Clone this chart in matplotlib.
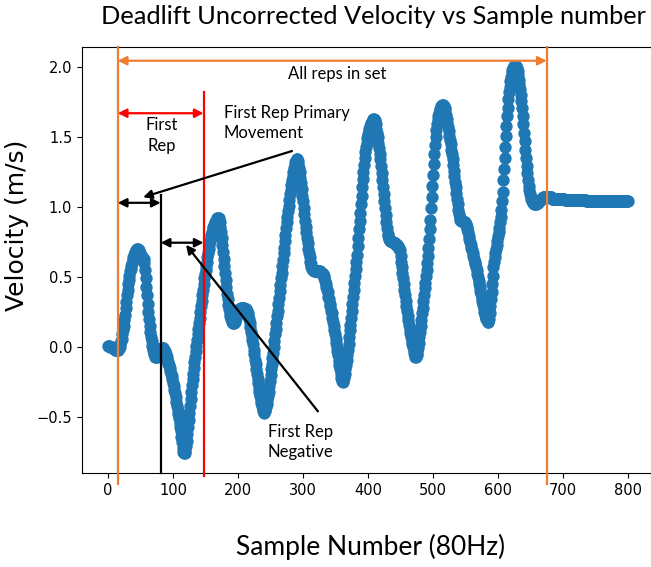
import numpy as np
import matplotlib
matplotlib.use("Agg")
import matplotlib.pyplot as plt

# velocity, one value per sample (80 Hz), samples 0..800
velocity = [
    0.01, 0.01, 0.01, 0.00, 0.00, 0.00, 0.00, -0.01, -0.01, -0.01,      # 0
    -0.01, -0.02, -0.02, -0.02, -0.02, -0.02, -0.02, -0.01, 0.00, 0.02,  # 10
    0.04, 0.06, 0.09, 0.12, 0.15, 0.19, 0.23, 0.28, 0.32, 0.37,          # 20
    0.41, 0.45, 0.48, 0.51, 0.54, 0.56, 0.58, 0.60, 0.62, 0.64,          # 30
    0.66, 0.67, 0.68, 0.69, 0.70, 0.70, 0.70, 0.69, 0.68, 0.67,          # 40
    0.66, 0.65, 0.64, 0.64, 0.63, 0.63, 0.60, 0.55, 0.49, 0.43,          # 50
    0.37, 0.31, 0.25, 0.20, 0.15, 0.11, 0.07, 0.04, 0.01, -0.02,         # 60
    -0.04, -0.05, -0.06, -0.07, -0.07, -0.07, -0.06, -0.05, -0.04, -0.03,  # 70
    -0.02, -0.02, -0.01, -0.01, -0.01, -0.01, -0.02, -0.03, -0.04, -0.05,  # 80
    -0.07, -0.09, -0.11, -0.12, -0.13, -0.15, -0.17, -0.19, -0.21, -0.23,  # 90
    -0.26, -0.28, -0.31, -0.33, -0.36, -0.39, -0.42, -0.45, -0.48, -0.51,  # 100
    -0.54, -0.57, -0.60, -0.64, -0.68, -0.72, -0.75, -0.76, -0.76, -0.74,  # 110
    -0.71, -0.67, -0.62, -0.57, -0.52, -0.47, -0.42, -0.37, -0.32, -0.27,  # 120
    -0.23, -0.19, -0.15, -0.11, -0.07, -0.03, 0.01, 0.05, 0.09, 0.13,    # 130
    0.17, 0.21, 0.25, 0.29, 0.33, 0.37, 0.41, 0.45, 0.49, 0.52,          # 140
    0.55, 0.58, 0.61, 0.64, 0.67, 0.70, 0.73, 0.76, 0.78, 0.80,          # 150
    0.82, 0.84, 0.86, 0.87, 0.88, 0.89, 0.90, 0.91, 0.92, 0.92,          # 160
    0.92, 0.91, 0.89, 0.86, 0.82, 0.78, 0.73, 0.68, 0.63, 0.58,          # 170
    0.53, 0.48, 0.43, 0.38, 0.34, 0.30, 0.27, 0.24, 0.22, 0.20,          # 180
    0.19, 0.18, 0.17, 0.17, 0.17, 0.18, 0.19, 0.21, 0.23, 0.24,          # 190
    0.25, 0.26, 0.27, 0.27, 0.28, 0.28, 0.28, 0.28, 0.28, 0.28,          # 200
    0.27, 0.27, 0.27, 0.27, 0.26, 0.24, 0.22, 0.20, 0.17, 0.14,          # 210
    0.11, 0.08, 0.05, 0.02, -0.02, -0.05, -0.09, -0.12, -0.16, -0.19,    # 220
    -0.23, -0.26, -0.29, -0.32, -0.35, -0.38, -0.40, -0.42, -0.44, -0.46,  # 230
    -0.47, -0.46, -0.45, -0.43, -0.41, -0.38, -0.35, -0.32, -0.28, -0.24,  # 240
    -0.20, -0.16, -0.12, -0.08, -0.04, 0.00, 0.04, 0.09, 0.13, 0.17,     # 250
    0.22, 0.26, 0.31, 0.35, 0.40, 0.44, 0.49, 0.53, 0.58, 0.62,          # 260
    0.67, 0.71, 0.76, 0.80, 0.85, 0.89, 0.93, 0.97, 1.01, 1.05,          # 270
    1.09, 1.12, 1.16, 1.19, 1.22, 1.25, 1.28, 1.30, 1.32, 1.33,          # 280
    1.34, 1.34, 1.33, 1.31, 1.28, 1.25, 1.21, 1.17, 1.13, 1.08,          # 290
    1.04, 0.99, 0.95, 0.90, 0.86, 0.82, 0.78, 0.74, 0.70, 0.67,          # 300
    0.64, 0.61, 0.59, 0.57, 0.56, 0.55, 0.55, 0.54, 0.54, 0.54,          # 310
    0.54, 0.54, 0.54, 0.54, 0.54, 0.54, 0.54, 0.53, 0.53, 0.53,          # 320
    0.52, 0.52, 0.51, 0.49, 0.47, 0.45, 0.43, 0.41, 0.39, 0.36,          # 330
    0.34, 0.31, 0.29, 0.26, 0.24, 0.21, 0.18, 0.15, 0.12, 0.09,          # 340
    0.06, 0.03, 0.00, -0.03, -0.06, -0.10, -0.13, -0.16, -0.19, -0.22,   # 350
    -0.24, -0.25, -0.24, -0.22, -0.19, -0.16, -0.13, -0.09, -0.06, -0.02,  # 360
    0.02, 0.07, 0.12, 0.16, 0.21, 0.26, 0.31, 0.36, 0.41, 0.46,          # 370
    0.51, 0.56, 0.61, 0.66, 0.72, 0.78, 0.84, 0.90, 0.96, 1.02,          # 380
    1.08, 1.14, 1.20, 1.25, 1.30, 1.35, 1.39, 1.43, 1.46, 1.49,          # 390
    1.52, 1.54, 1.56, 1.58, 1.59, 1.60, 1.61, 1.62, 1.63, 1.63,          # 400
    1.62, 1.61, 1.59, 1.56, 1.53, 1.50, 1.46, 1.42, 1.38, 1.34,          # 410
    1.29, 1.24, 1.19, 1.14, 1.09, 1.04, 0.99, 0.94, 0.89, 0.85,          # 420
    0.81, 0.79, 0.77, 0.77, 0.76, 0.76, 0.76, 0.75, 0.75, 0.75,          # 430
    0.74, 0.74, 0.74, 0.73, 0.73, 0.73, 0.72, 0.71, 0.70, 0.69,          # 440
    0.65, 0.61, 0.57, 0.53, 0.49, 0.45, 0.41, 0.37, 0.33, 0.29,          # 450
    0.26, 0.22, 0.19, 0.16, 0.13, 0.10, 0.07, 0.04, 0.02, 0.00,          # 460
    -0.02, -0.04, -0.06, -0.07, -0.07, -0.06, -0.04, -0.01, 0.03, 0.07,  # 470
    0.11, 0.15, 0.19, 0.24, 0.28, 0.33, 0.37, 0.42, 0.46, 0.51,          # 480
    0.55, 0.60, 0.65, 0.71, 0.77, 0.84, 0.91, 0.99, 1.07, 1.15,          # 490
    1.23, 1.31, 1.38, 1.44, 1.50, 1.55, 1.59, 1.62, 1.65, 1.67,          # 500
    1.69, 1.70, 1.71, 1.72, 1.73, 1.73, 1.73, 1.72, 1.71, 1.69,          # 510
    1.66, 1.63, 1.60, 1.57, 1.54, 1.51, 1.48, 1.45, 1.41, 1.38,          # 520
    1.34, 1.30, 1.26, 1.22, 1.18, 1.14, 1.10, 1.06, 1.02, 0.98,          # 530
    0.95, 0.92, 0.91, 0.90, 0.90, 0.90, 0.90, 0.89, 0.89, 0.89,          # 540
    0.88, 0.87, 0.86, 0.84, 0.82, 0.79, 0.77, 0.75, 0.73, 0.71,          # 550
    0.69, 0.67, 0.65, 0.63, 0.61, 0.59, 0.57, 0.55, 0.52, 0.50,          # 560
    0.47, 0.45, 0.43, 0.40, 0.38, 0.35, 0.33, 0.30, 0.28, 0.25,          # 570
    0.23, 0.21, 0.20, 0.19, 0.18, 0.18, 0.20, 0.24, 0.29, 0.34,          # 580
    0.39, 0.45, 0.51, 0.57, 0.61, 0.64, 0.67, 0.70, 0.73, 0.76,          # 590
    0.79, 0.82, 0.85, 0.89, 0.93, 0.98, 1.04, 1.11, 1.19, 1.27,          # 600
    1.35, 1.43, 1.51, 1.58, 1.65, 1.71, 1.77, 1.82, 1.86, 1.90,          # 610
    1.93, 1.96, 1.98, 1.99, 2.00, 2.01, 2.01, 2.01, 2.00, 1.99,          # 620
    1.97, 1.94, 1.91, 1.88, 1.84, 1.80, 1.76, 1.71, 1.65, 1.59,          # 630
    1.53, 1.47, 1.41, 1.35, 1.29, 1.24, 1.19, 1.15, 1.12, 1.09,          # 640
    1.07, 1.06, 1.05, 1.04, 1.03, 1.03, 1.02, 1.02, 1.02, 1.02,          # 650
    1.03, 1.03, 1.04, 1.04, 1.05, 1.05, 1.06, 1.06, 1.06, 1.07,          # 660
    1.07, 1.07, 1.07, 1.07, 1.07, 1.07, 1.07, 1.07, 1.07, 1.07,          # 670
    1.07, 1.07, 1.07, 1.06, 1.06, 1.06, 1.06, 1.06, 1.06, 1.06,          # 680
    1.06, 1.06, 1.06, 1.06, 1.06, 1.06, 1.06, 1.06, 1.06, 1.06,          # 690
    1.06, 1.06, 1.06, 1.05, 1.05, 1.05, 1.05, 1.05, 1.05, 1.05,          # 700
    1.05, 1.05, 1.05, 1.05, 1.05, 1.05, 1.05, 1.05, 1.05, 1.05,          # 710
    1.05, 1.05, 1.05, 1.05, 1.05, 1.05, 1.05, 1.05, 1.05, 1.05,          # 720
    1.05, 1.05, 1.05, 1.05, 1.05, 1.05, 1.04, 1.04, 1.04, 1.04,          # 730
    1.04, 1.04, 1.04, 1.04, 1.04, 1.04, 1.04, 1.04, 1.04, 1.04,          # 740
    1.04, 1.04, 1.04, 1.04, 1.04, 1.04, 1.04, 1.04, 1.04, 1.04,          # 750
    1.04, 1.04, 1.04, 1.04, 1.04, 1.04, 1.04, 1.04, 1.04, 1.04,          # 760
    1.04, 1.04, 1.04, 1.04, 1.04, 1.04, 1.04, 1.04, 1.04, 1.04,          # 770
    1.04, 1.04, 1.04, 1.04, 1.04, 1.04, 1.04, 1.04, 1.04, 1.04,          # 780
    1.04, 1.04, 1.04, 1.04, 1.04, 1.04, 1.04, 1.04, 1.04, 1.04,          # 790
    1.04,                                                                # 800
]
sample = np.arange(len(velocity))

# rep markers (sample numbers)
set_start = 15
set_end = 675
rep1_split = 81
rep1_end = 147

ticks_x = [0, 100, 200, 300, 400, 500, 600, 700, 800]
ticks_y = [-0.5, 0.0, 0.5, 1.0, 1.5, 2.0]

orange = "#ED7D31"
note_font = "Lato"

fig = plt.figure(figsize=(6.51, 5.67), dpi=100)
ax = fig.add_axes([0.126, 0.1658, 0.8786, 0.7513])

ax.scatter(sample, velocity, s=62, color="#1f77b4", zorder=2)

ax.set_xlim(-40, 840)
ax.set_ylim(-0.9, 2.143)
ax.set_xticks(ticks_x)
ax.set_yticks(ticks_y)
ax.tick_params(labelsize=10.5)

# vertical markers
ax.plot([set_start, set_start], [2.143, -0.98], color=orange, lw=1.6, clip_on=False, zorder=3)
ax.plot([set_end, set_end], [2.143, -0.98], color=orange, lw=1.6, clip_on=False, zorder=3)
ax.plot([rep1_end, rep1_end], [1.82, -0.92], color="red", lw=1.6, clip_on=False, zorder=3)
ax.plot([rep1_split, rep1_split], [1.085, -0.90], color="black", lw=1.6, clip_on=False, zorder=3)

def span(x0, x1, y, col):
    ax.annotate("", xy=(x1, y), xytext=(x0, y),
                arrowprops=dict(arrowstyle="<|-|>", color=col, lw=1.6,
                                mutation_scale=13, shrinkA=0, shrinkB=0), zorder=4)

span(set_start, set_end, 2.045, orange)
span(set_start, rep1_end, 1.67, "red")
span(set_start, rep1_split, 1.03, "black")
span(rep1_split, rep1_end, 0.745, "black")

ax.text(352, 1.95, "All reps in set", ha="center", va="center", fontsize=12, family=note_font)
ax.text(83, 1.51, "First\nRep", ha="center", va="center", fontsize=12, family=note_font,
        linespacing=1.4)
ax.text(178, 1.6, "First Rep Primary\nMovement", ha="left", va="center", fontsize=12,
        family=note_font, linespacing=1.3)
ax.text(296, -0.68, "First Rep\nNegative", ha="center", va="center", fontsize=12,
        family=note_font, linespacing=1.3)

ax.annotate("", xy=(54, 1.07), xytext=(283, 1.40),
            arrowprops=dict(arrowstyle="-|>", color="black", lw=1.6, mutation_scale=13,
                            shrinkA=0, shrinkB=0), zorder=4)
ax.annotate("", xy=(120, 0.73), xytext=(323, -0.46),
            arrowprops=dict(arrowstyle="-|>", color="black", lw=1.6, mutation_scale=13,
                            shrinkA=0, shrinkB=0), zorder=4)

fig.text(373 / 651, 1 - 17 / 567, "Deadlift Uncorrected Velocity vs Sample number",
         ha="center", va="center", fontsize=18.3, family=note_font)
fig.text(371 / 651, 1 - 547 / 567, "Sample Number (80Hz)", ha="center", va="center",
         fontsize=19, family=note_font)
fig.text(17 / 651, 1 - 225 / 567, "Velocity (m/s)", ha="center", va="center",
         rotation=90, fontsize=18)

fig.savefig("out.png", dpi=100)
